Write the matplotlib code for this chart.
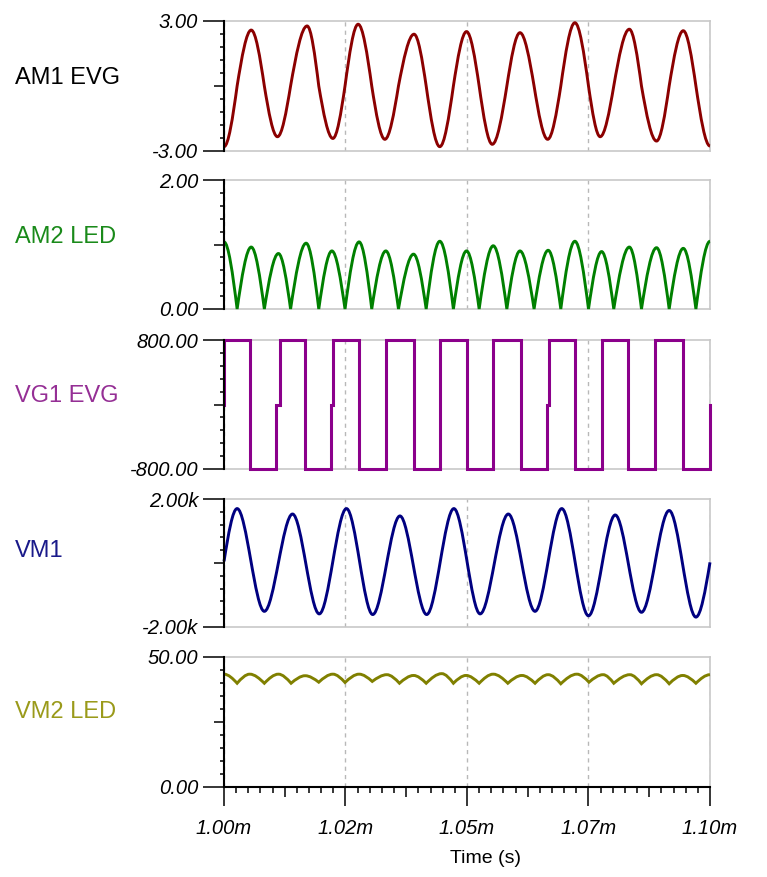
import numpy as np
import matplotlib.pyplot as plt
from matplotlib.path import Path
from matplotlib.patches import PathPatch

# ---- data (time in ms) ----
# AM1 EVG: extremes + zero crossings
am1_t = [1.0000, 1.0027, 1.0056, 1.0083, 1.0110, 1.0137, 1.0171, 1.0195, 1.0224, 1.0249,
         1.0276, 1.0304, 1.0331, 1.0359, 1.0391, 1.0416, 1.0444, 1.0472, 1.0499, 1.0525,
         1.0552, 1.0582, 1.0609, 1.0638, 1.0666, 1.0693, 1.0722, 1.0750, 1.0774, 1.0802,
         1.0834, 1.0859, 1.0890, 1.0916, 1.0945, 1.0971, 1.1000]
am1_v = [-2.80, 0, 2.58, 0, -2.34, 0, 2.77, 0, -2.42, 0,
         2.85, 0, -2.46, 0, 2.39, 0, -2.80, 0, 2.51, 0,
         -2.69, 0, 2.46, 0, -2.46, 0, 2.92, 0, -2.34, 0,
         2.62, 0, -2.54, 0, 2.55, 0, -2.77]
am1_kind = "ez" * 18 + "e"

# AM2 LED: rectified current, peaks + cusps
am2_t = [1.0000, 1.0027, 1.0056, 1.0083, 1.0112, 1.0137, 1.0169, 1.0195, 1.0222, 1.0249,
         1.0278, 1.0304, 1.0333, 1.0359, 1.0390, 1.0416, 1.0444, 1.0472, 1.0499, 1.0525,
         1.0554, 1.0582, 1.0609, 1.0638, 1.0667, 1.0693, 1.0722, 1.0750, 1.0777, 1.0802,
         1.0834, 1.0859, 1.0890, 1.0916, 1.0945, 1.0971, 1.1000]
am2_v = [1.04, 0, 0.96, 0, 0.86, 0, 1.02, 0, 0.90, 0,
         1.04, 0, 0.90, 0, 0.85, 0, 1.05, 0, 0.90, 0,
         0.98, 0, 0.90, 0, 0.91, 0, 1.05, 0, 0.89, 0,
         0.96, 0, 0.95, 0, 0.94, 0, 1.05]
am2_kind = "ez" * 18 + "e"

# VG1 EVG: square wave, level holds until next edge
vg1_t = [1.0000, 1.0000, 1.0053, 1.0108, 1.0115, 1.0167, 1.0220, 1.0224, 1.0278, 1.0333,
         1.0390, 1.0444, 1.0499, 1.0554, 1.0611, 1.0664, 1.0669, 1.0722, 1.0777, 1.0832,
         1.0887, 1.0944, 1.0999, 1.1000]
vg1_v = [0, 800, -800, 0, 800, -800, 0, 800, -800, 800,
         -800, 800, -800, 800, -800, 0, 800, -800, 800, -800,
         800, -800, 0, 0]

# VM1: voltage, extremes only
vm1_t = [1.0000, 1.0027, 1.0083, 1.0141, 1.0196, 1.0252, 1.0306, 1.0362, 1.0417, 1.0473,
         1.0527, 1.0585, 1.0640, 1.0695, 1.0750, 1.0805, 1.0859, 1.0916, 1.0971, 1.1000]
vm1_v = [50, 1700, -1510, 1530, -1590, 1700, -1610, 1470, -1610, 1700,
         -1590, 1530, -1510, 1700, -1650, 1500, -1540, 1640, -1690, 20]
vm1_kind = "z" + "e" * 18 + "z"

# VM2 LED: ripple, rounded tops + sharp dips
vm2_t = [1.0000, 1.0027, 1.0053, 1.0083, 1.0112, 1.0138, 1.0167, 1.0195, 1.0224, 1.0249,
         1.0278, 1.0305, 1.0335, 1.0361, 1.0390, 1.0416, 1.0448, 1.0472, 1.0498, 1.0525,
         1.0554, 1.0584, 1.0613, 1.0640, 1.0667, 1.0693, 1.0726, 1.0751, 1.0780, 1.0802,
         1.0835, 1.0859, 1.0890, 1.0916, 1.0944, 1.0971, 1.1000]
vm2_v = [43.4, 39.9, 43.4, 39.9, 43.4, 39.9, 42.8, 40.3, 43.4, 40.2,
         43.4, 40.6, 43.2, 39.9, 42.9, 39.9, 43.6, 39.9, 42.9, 39.9,
         43.4, 39.9, 42.9, 39.9, 43.2, 39.7, 43.4, 40.3, 43.2, 39.9,
         43.2, 39.7, 43.2, 39.7, 42.9, 39.9, 43.2]
vm2_kind = "ez" * 18 + "e"

x_ticks = [1.0, 1.025, 1.05, 1.075, 1.1]
x_tick_labels = ["1.00m", "1.02m", "1.05m", "1.07m", "1.10m"]

channel_names = ["AM1 EVG", "AM2 LED", "VG1 EVG", "VM1", "VM2 LED"]
y_ranges = [(-3.0, 3.0), (0.0, 2.0), (-800.0, 800.0), (-2000.0, 2000.0), (0.0, 50.0)]
y_labels = [("-3.00", "3.00"), ("0.00", "2.00"), ("-800.00", "800.00"),
            ("-2.00k", "2.00k"), ("0.00", "50.00")]

COLORS = ["#8b0000", "#008000", "#8b008b", "#000080", "#808000"]
LABEL_COLORS = ["#000000", "#1a8a1a", "#952f95", "#1a1a8a", "#9a9a1a"]


def wave_path(t, v, kinds):
    """Smooth trace through read-off points: 'e' = extreme (flat tangent),
    'z' = zero/cusp (steep sine-like tangent)."""
    verts = [(t[0], v[0])]
    codes = [Path.MOVETO]
    for i in range(len(t) - 1):
        x0, y0, x1, y1 = t[i], v[i], t[i + 1], v[i + 1]
        dx, dy = x1 - x0, y1 - y0
        k0 = np.pi / 6 if kinds[i] == "z" else 0.0
        k1 = np.pi / 6 if kinds[i + 1] == "z" else 0.0
        verts += [(x0 + dx / 3, y0 + k0 * dy), (x1 - dx / 3, y1 - k1 * dy), (x1, y1)]
        codes += [Path.CURVE4] * 3
    return Path(verts, codes)


plt.rcParams['font.family'] = ['Liberation Sans', 'DejaVu Sans']
fig = plt.figure(figsize=(7.67, 8.77), dpi=100)
W_PX, H_PX = 767, 877
LEFT_PX, RIGHT_PX = 224, 710
PANELS_PX = [(21, 151), (180, 309), (340, 469), (499, 627), (657, 787)]
LABEL_Y_PX = [78, 237, 396, 551, 712]

traces = [(am1_t, am1_v, am1_kind), (am2_t, am2_v, am2_kind), None,
          (vm1_t, vm1_v, vm1_kind), (vm2_t, vm2_v, vm2_kind)]

for i, (top, bot) in enumerate(PANELS_PX):
    ax = fig.add_axes([LEFT_PX / W_PX, 1 - bot / H_PX,
                       (RIGHT_PX - LEFT_PX) / W_PX, (bot - top) / H_PX])
    lo, hi = y_ranges[i]
    ax.set_xlim(x_ticks[0], x_ticks[-1])
    ax.set_ylim(lo, hi)

    # ---- trace ----
    if traces[i] is None:
        ax.step(vg1_t, vg1_v, where="post", color=COLORS[i], lw=2.2,
                clip_on=False, zorder=5, solid_joinstyle="miter")
    else:
        t, v, kinds = traces[i]
        ax.add_patch(PathPatch(wave_path(t, v, kinds), fill=False, edgecolor=COLORS[i],
                               lw=2.1, clip_on=False, zorder=5))

    # ---- frame ----
    for side in ["top", "right", "bottom"]:
        ax.spines[side].set_color("#c8c8c8")
        ax.spines[side].set_linewidth(1.2)
    ax.spines["left"].set_color("black")
    ax.spines["left"].set_linewidth(1.5)
    ax.spines["left"].set_zorder(6)

    # ---- y ticks: labelled ends, medium middle tick, small minors ----
    ax.set_yticks([lo, (lo + hi) / 2, hi])
    ax.set_yticklabels([y_labels[i][0], "", y_labels[i][1]], fontstyle="italic")
    ax.set_yticks(np.linspace(lo, hi, 11), minor=True)
    ax.tick_params(axis="y", which="major", length=15, width=1.1, pad=3.5,
                   labelsize=14.5, colors="black")
    ax.tick_params(axis="y", which="minor", length=3, width=1.1)
    ax.yaxis.get_major_ticks()[1].tick1line.set_markersize(7.5)

    # ---- x grid / ticks ----
    ax.set_xticks(x_ticks)
    ax.grid(axis="x", linestyle=(0, (3, 3)), color="#b8b8b8", lw=1.0)
    if i < len(PANELS_PX) - 1:
        ax.tick_params(axis="x", which="both", length=0, labelbottom=False)
    else:
        ax.spines["bottom"].set_color("black")
        ax.spines["bottom"].set_linewidth(1.5)
        ax.set_xticklabels(x_tick_labels, fontstyle="italic")
        ax.set_xticks(np.arange(0, 41) * 0.0025 + 1.0, minor=True)
        ax.tick_params(axis="x", which="major", length=14, width=1.1, pad=9,
                       labelsize=14.5, colors="black")
        ax.tick_params(axis="x", which="minor", length=4.5, width=1.1)
        for tick, loc in zip(ax.xaxis.get_minor_ticks(), ax.xaxis.get_minorticklocs()):
            if round((loc - 1.0) / 0.0025) % 5 == 0:
                tick.tick1line.set_markersize(7.5)
        ax.set_xlabel("Time (s)", fontsize=14)
        ax.xaxis.set_label_coords((485 - LEFT_PX) / (RIGHT_PX - LEFT_PX), -0.485)

    fig.text(15 / W_PX, 1 - LABEL_Y_PX[i] / H_PX, channel_names[i],
             color=LABEL_COLORS[i], fontsize=17, va="center", ha="left")

fig.savefig("out.png", dpi=100)
